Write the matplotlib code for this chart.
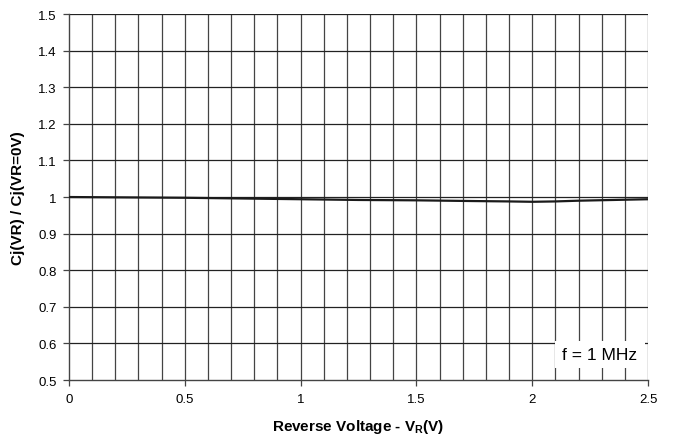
import matplotlib
matplotlib.use("Agg")
import matplotlib.pyplot as plt
from matplotlib.patches import Rectangle
import numpy as np

plt.rcParams['font.family'] = ['Liberation Sans', 'DejaVu Sans']

# measured curve, normalised capacitance vs reverse voltage
vr = [0.0, 0.25, 0.5, 0.75, 1.0, 1.25, 1.5, 1.75, 1.9, 2.0, 2.1, 2.2, 2.35, 2.5]
ratio = [1.0, 0.999, 0.998, 0.996, 0.994, 0.992, 0.991, 0.989, 0.988, 0.987, 0.988, 0.990, 0.992, 0.994]

x_ticks = [0, 0.5, 1, 1.5, 2, 2.5]
x_labels = ['0', '0.5', '1', '1.5', '2', '2.5']
y_ticks = [0.5, 0.6, 0.7, 0.8, 0.9, 1.0, 1.1, 1.2, 1.3, 1.4, 1.5]
y_labels = ['0.5', '0.6', '0.7', '0.8', '0.9', '1', '1.1', '1.2', '1.3', '1.4', '1.5']

fig = plt.figure(figsize=(6.73, 4.35), dpi=100)
ax = fig.add_axes([0.1025, 0.124, 0.8605, 0.8415])

ax.set_xlim(0, 2.5)
ax.set_ylim(0.5, 1.5)

# grid: every 0.1 V and every 0.1 in ratio
for xv in np.arange(0.1, 2.51, 0.1):
    ax.axvline(xv, color='#444444', lw=0.9, zorder=1)
for yv in y_ticks[1:]:
    ax.axhline(yv, color='#222222', lw=0.9, zorder=1)

ax.plot(vr, ratio, color='#1a1a1a', lw=1.6, zorder=3)

ax.set_xticks(x_ticks)
ax.set_xticklabels(x_labels)
ax.set_yticks(y_ticks)
ax.set_yticklabels(y_labels)
ax.tick_params(direction='out', length=4, width=0.9, labelsize=9.5, color='#444444', pad=5)

for s in ['top', 'right']:
    ax.spines[s].set_visible(False)
for s in ['left', 'bottom']:
    ax.spines[s].set_color('#444444')
    ax.spines[s].set_linewidth(1.0)

ax.set_xlabel('Reverse Voltage - V$_\\mathregular{R}$(V)', fontsize=11, fontweight='bold', labelpad=9)
ax.set_ylabel('Cj(VR) / Cj(VR=0V)', fontsize=11, fontweight='bold', labelpad=9)

# white label box in the lower right corner
ax.add_patch(Rectangle((0.839, 0.033), 0.156, 0.074, transform=ax.transAxes,
                       facecolor='white', edgecolor='none', zorder=4))
ax.text(0.981, 0.069, 'f = 1 MHz', transform=ax.transAxes, ha='right', va='center',
        fontsize=12.5, zorder=5)

fig.savefig('out.png', dpi=100)
